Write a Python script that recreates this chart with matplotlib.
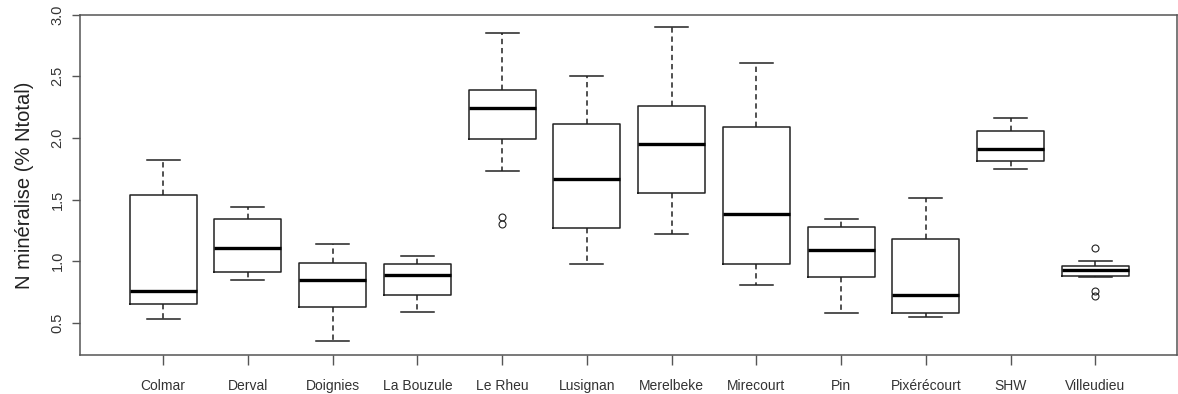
import matplotlib.pyplot as plt

# sites and box statistics
sites = ['Colmar', 'Derval', 'Doignies', 'La Bouzule', 'Le Rheu', 'Lusignan',
         'Merelbeke', 'Mirecourt', 'Pin', 'Pixérécourt', 'SHW', 'Villeudieu']
whislo = [0.53, 0.85, 0.35, 0.59, 1.73, 0.98, 1.22, 0.81, 0.58, 0.55, 1.75, 0.87]
q1 = [0.65, 0.91, 0.63, 0.73, 1.99, 1.27, 1.55, 0.98, 0.87, 0.58, 1.81, 0.88]
med = [0.76, 1.11, 0.85, 0.89, 2.24, 1.67, 1.95, 1.38, 1.09, 0.73, 1.91, 0.93]
q3 = [1.54, 1.34, 0.99, 0.98, 2.39, 2.11, 2.26, 2.09, 1.28, 1.18, 2.06, 0.96]
whishi = [1.82, 1.44, 1.14, 1.04, 2.85, 2.50, 2.90, 2.61, 1.34, 1.51, 2.16, 1.00]
fliers = [[], [], [], [], [1.36, 1.30], [], [], [], [], [], [], [1.11, 0.76, 0.72]]

stats = []
for i in range(len(sites)):
    stats.append(dict(label=sites[i], whislo=whislo[i], q1=q1[i], med=med[i],
                      q3=q3[i], whishi=whishi[i], fliers=fliers[i]))

plt.rcParams['font.family'] = ['Liberation Sans', 'DejaVu Sans']

fig = plt.figure(figsize=(11.78, 3.94), dpi=100)
ax = fig.add_axes([0.0679, 0.099, 0.9311, 0.8637])

lc = '#222222'
ax.bxp(stats, widths=0.79, patch_artist=False,
       boxprops=dict(color=lc, linewidth=1.1),
       medianprops=dict(color='black', linewidth=2.4),
       whiskerprops=dict(color=lc, linewidth=1.1, linestyle=(0, (3.5, 2.5))),
       capprops=dict(color=lc, linewidth=1.1),
       capwidths=0.39,
       flierprops=dict(marker='o', markersize=5, markerfacecolor='none',
                       markeredgecolor=lc, markeredgewidth=0.8))

ax.set_xlim(0.02, 12.96)
ax.set_ylim(0.24, 3.0)
ax.set_yticks([0.5, 1.0, 1.5, 2.0, 2.5, 3.0])
ax.set_yticklabels(['0.5', '1.0', '1.5', '2.0', '2.5', '3.0'],
                   rotation=90, va='center', fontsize=10.5, color='#333333')
ax.tick_params(axis='y', length=6, width=1, color='#555555', pad=5)
ax.tick_params(axis='x', length=7, width=1, color='#555555', pad=10,
               labelsize=10, labelcolor='#333333')
for s in ax.spines.values():
    s.set_color('#555555')
    s.set_linewidth(1.1)

ax.set_ylabel('N minéralise (% Ntotal)', fontsize=14.5, color='#222222', labelpad=12)

fig.savefig('out.png', dpi=100)
